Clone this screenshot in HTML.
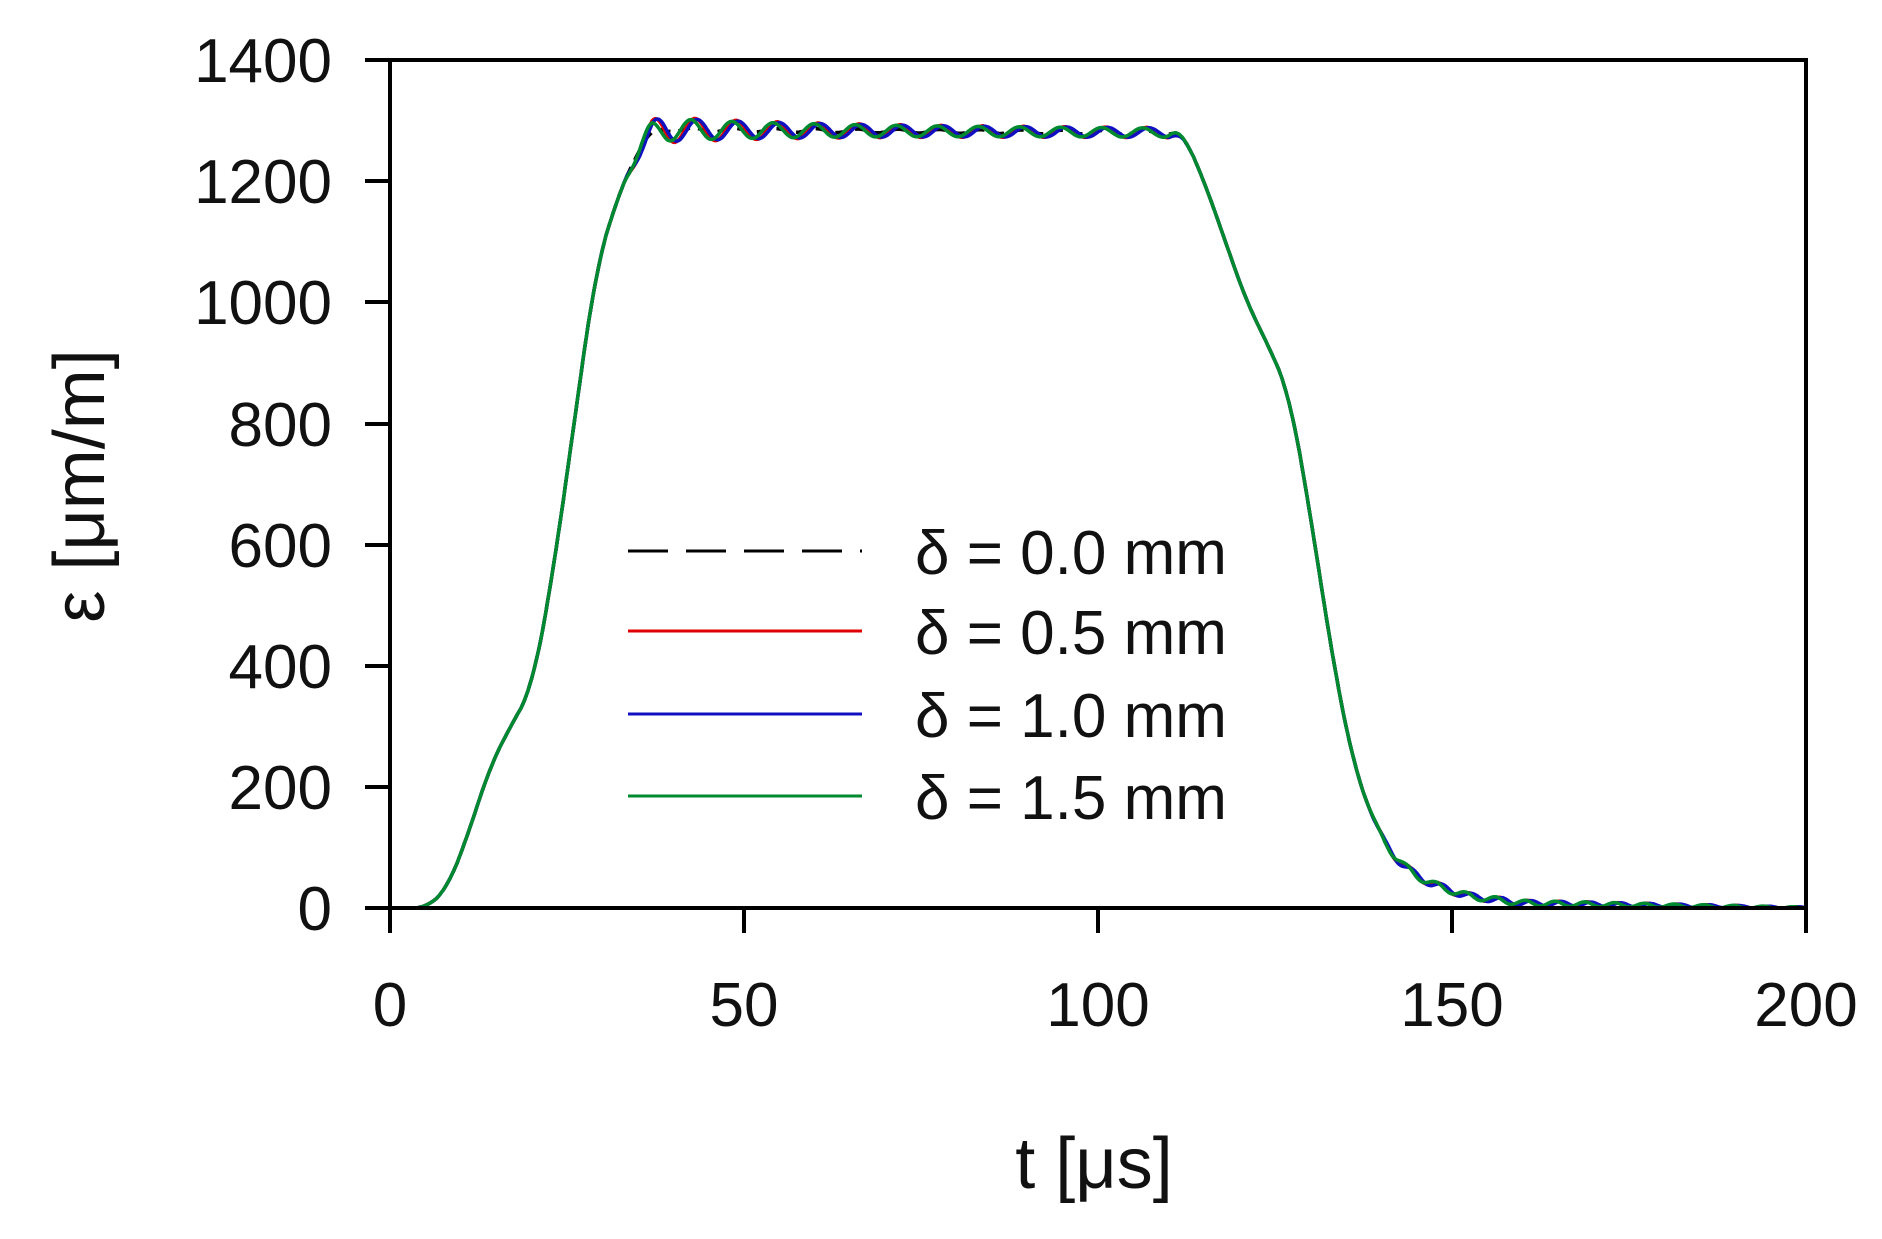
<!DOCTYPE html>
<html><head><meta charset="utf-8"><style>
html,body{margin:0;padding:0;background:#fff;}
svg{display:block;font-family:"Liberation Sans",Arial,sans-serif;}
</style></head><body>
<svg id="s" width="1882" height="1239" viewBox="0 0 1882 1239" xmlns="http://www.w3.org/2000/svg">
<rect width="1882" height="1239" fill="#fff"/>
<g id="curves" fill="none" stroke-width="3.5" stroke-linejoin="round"></g>
<g stroke="#000" stroke-width="4" fill="none">
<rect x="390" y="60" width="1416" height="848"/>
<line x1="365" y1="60" x2="390" y2="60"/>
<line x1="365" y1="181" x2="390" y2="181"/>
<line x1="365" y1="302" x2="390" y2="302"/>
<line x1="365" y1="424" x2="390" y2="424"/>
<line x1="365" y1="545" x2="390" y2="545"/>
<line x1="365" y1="666" x2="390" y2="666"/>
<line x1="365" y1="787" x2="390" y2="787"/>
<line x1="365" y1="908" x2="390" y2="908"/>
<line x1="390" y1="908" x2="390" y2="933"/>
<line x1="744" y1="908" x2="744" y2="933"/>
<line x1="1098" y1="908" x2="1098" y2="933"/>
<line x1="1452" y1="908" x2="1452" y2="933"/>
<line x1="1806" y1="908" x2="1806" y2="933"/>
</g>
<g font-size="62" text-anchor="end" fill="#111">
<text x="332" y="82">1400</text>
<text x="332" y="203">1200</text>
<text x="332" y="324">1000</text>
<text x="332" y="446">800</text>
<text x="332" y="567">600</text>
<text x="332" y="688">400</text>
<text x="332" y="809">200</text>
<text x="332" y="930">0</text>
</g>
<g font-size="62" text-anchor="middle" fill="#111">
<text x="390" y="1026">0</text>
<text x="744" y="1026">50</text>
<text x="1098" y="1026">100</text>
<text x="1452" y="1026">150</text>
<text x="1806" y="1026">200</text>
</g>
<text x="1094" y="1188" font-size="72" text-anchor="middle" fill="#111">t [μs]</text>
<text transform="translate(104,486) rotate(-90)" font-size="72" text-anchor="middle" fill="#111">ε [μm/m]</text>
<g stroke-width="3">
<line x1="628" y1="551" x2="862" y2="551" stroke="#000" stroke-dasharray="40,18"/>
<line x1="628" y1="631" x2="862" y2="631" stroke="#e00000"/>
<line x1="628" y1="714" x2="862" y2="714" stroke="#1010c0"/>
<line x1="628" y1="796" x2="862" y2="796" stroke="#008a30"/>
</g>
<g font-size="62" fill="#111">
<text x="915" y="574">δ = 0.0 mm</text>
<text x="915" y="654">δ = 0.5 mm</text>
<text x="915" y="737">δ = 1.0 mm</text>
<text x="915" y="819">δ = 1.5 mm</text>
</g>
</svg>
<script>
var K=[[0,0],[5,0],[8,30],[11,120],[14,230],[17,300],[20,360],[23,550],[26,800],[29,1050],[32,1170],[35,1250],[37,1285],[112,1280],[115,1200],[118,1100],[121,1000],[124,930],[127,850],[130,650],[133,420],[136,240],[139,140],[142,80],[146,45],[152,20],[160,8],[200,0]];
function base(t){for(var i=1;i<K.length;i++){if(t<=K[i][0]){var a=K[i-1],b=K[i];return a[1]+(b[1]-a[1])*(t-a[0])/(b[0]-a[0]);}}return 0;}
function sm(t){var s=0,n=0;for(var d=-1.5;d<=1.5;d+=0.5){s+=base(t+d);n++;}return s/n;}
var S=[["#000",0,0,"12,8"],["#e00000",1.0,0.3,""],["#1010c0",0.9,0.6,""],["#008a30",0.85,-0.3,""]];
var g=document.getElementById("curves");
S.forEach(function(s){var d="";for(var t=0;t<=200;t+=0.25){var e=sm(t);
var w=Math.min(1,Math.max(0,(t-33)/4))*Math.min(1,Math.max(0,(113-t)/3));
if(w>0){var a=(15*Math.exp(-(t-37)/20)+5)*s[1]+3;e+=w*a*Math.cos(2*Math.PI*(t-37-s[2])/5.8);}
var w2=Math.min(1,Math.max(0,(t-138)/4));
if(w2>0){var b=6*Math.max(0.3,1-(t-140)/80);e+=w2*b*Math.sin(2*Math.PI*(t-s[2])/4.2);if(e<0)e=0;}
var x=390+t*7.08,y=908-e*0.6057;d+=(d?"L":"M")+x.toFixed(1)+" "+y.toFixed(1);}
var p=document.createElementNS("http://www.w3.org/2000/svg","path");p.setAttribute("d",d);p.setAttribute("stroke",s[0]);if(s[3])p.setAttribute("stroke-dasharray",s[3]);g.appendChild(p);});
</script>
</body></html>
